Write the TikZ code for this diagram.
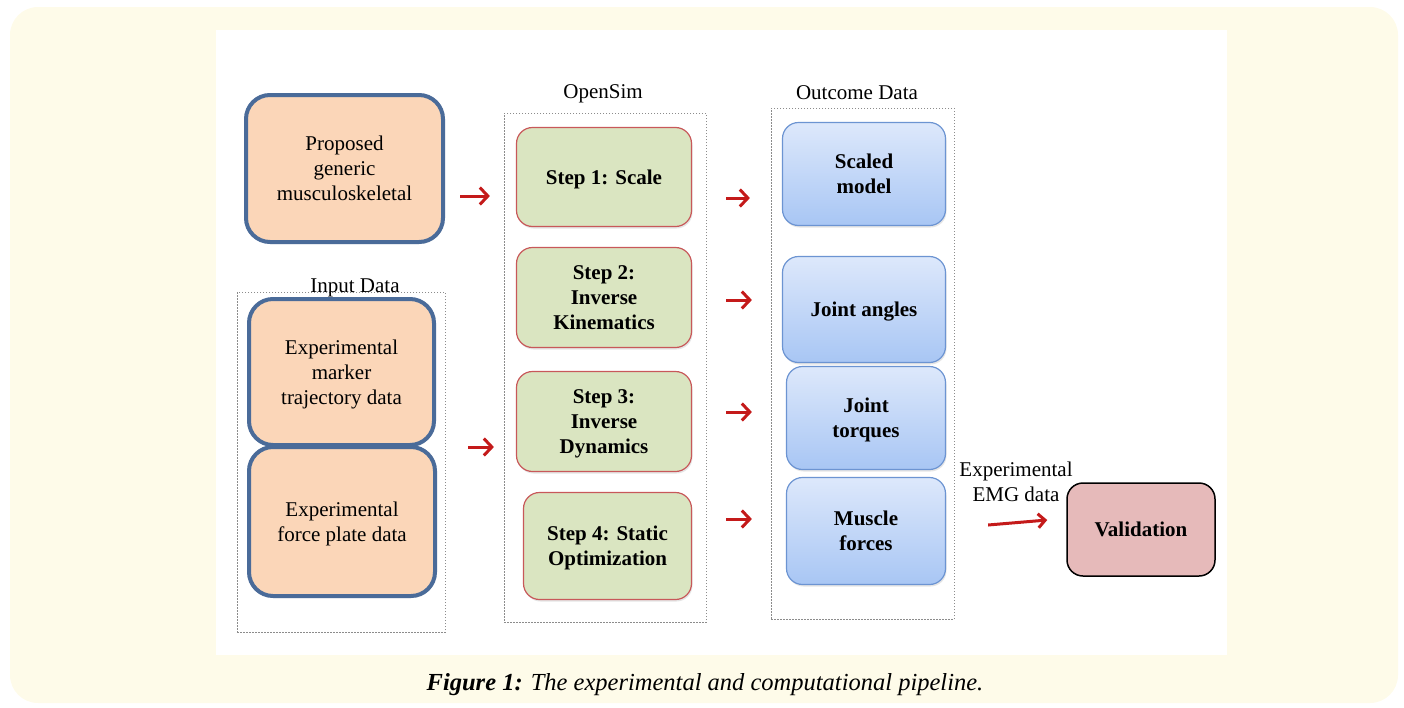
\documentclass[tikz,border=0pt]{standalone}
\usepackage{fontspec}
\setmainfont{Liberation Serif}
\usetikzlibrary{arrows.meta,shadows}
\definecolor{cream}{HTML}{FEFBE9}
\definecolor{peach}{HTML}{FBD6B8}
\definecolor{inputblue}{HTML}{4A6B99}
\definecolor{stepgreen}{HTML}{DAE5C1}
\definecolor{stepred}{HTML}{C8585A}
\definecolor{outtop}{HTML}{DDE8FB}
\definecolor{outbot}{HTML}{A8C6F4}
\definecolor{outblue}{HTML}{6C94D2}
\definecolor{valpink}{HTML}{E6BABA}
\definecolor{flowred}{HTML}{C41A1A}
\begin{document}
\begin{tikzpicture}[x=1pt,y=-1pt]
\tikzstyle{every node}+=[inner sep=0pt, align=center, font=\fontsize{21}{25}\selectfont]
\tikzstyle{inputbox}=[draw=inputblue, line width=4pt, fill=peach, rounded corners=24pt, text depth=-3pt, drop shadow={opacity=0.15, shadow xshift=1pt, shadow yshift=-2pt}]
\tikzstyle{stepbox}=[draw=stepred, line width=1.2pt, fill=stepgreen, rounded corners=16pt, text depth=-3pt, font=\fontsize{21}{25}\selectfont\bfseries, drop shadow={opacity=0.2, shadow xshift=1pt, shadow yshift=-2pt}]
\tikzstyle{outbox}=[draw=outblue, line width=1.2pt, top color=outtop, bottom color=outbot, rounded corners=16pt, text depth=-3pt, font=\fontsize{21}{25}\selectfont\bfseries, drop shadow={opacity=0.2, shadow xshift=1pt, shadow yshift=-2pt}]
\tikzstyle{groupbox}=[draw=gray!90, dash pattern=on 1.5pt off 1.5pt, line width=0.7pt]
\tikzstyle{flow}=[draw=flowred, line width=3pt, -{Straight Barb[length=8pt,width=17pt]}]
\useasboundingbox (0,0) rectangle (1404,707);
\fill [cream, rounded corners=28pt] (10,7) rectangle (1398,703);
\fill [white] (216,30) rectangle (1227,655);
\node [groupbox, minimum width=208pt, minimum height=340pt] (input) at (341,462) {};
\node [groupbox, minimum width=202pt, minimum height=509pt] (opensim) at (605,367.5) {};
\node [groupbox, minimum width=183pt, minimum height=511pt] (outcome) at (862.5,363.5) {};
\node (inputlbl) at (355,288) {Input Data};
\node (opensimlbl) at (603,94) {OpenSim};
\node (outcomelbl) at (857,93) {Outcome Data};
\node [inputbox, minimum width=197pt, minimum height=147pt] (generic) at (344.5,168.5) {Proposed\\generic\\musculoskeletal};
\node [inputbox, minimum width=185pt, minimum height=146pt] (marker) at (341.5,372) {Experimental\\marker\\trajectory data};
\node [inputbox, minimum width=186pt, minimum height=149pt] (force) at (342,521.5) {Experimental\\force plate data};
\node [stepbox, minimum width=175pt, minimum height=99pt] (scale) at (604,177) {Step 1: Scale};
\node [stepbox, minimum width=175pt, minimum height=100pt] (ik) at (604,297.5) {Step 2:\\Inverse\\Kinematics};
\node [stepbox, minimum width=175pt, minimum height=100pt] (id) at (604,421.5) {Step 3:\\Inverse\\Dynamics};
\node [stepbox, minimum width=168pt, minimum height=107pt] (so) at (607.5,546) {Step 4: Static\\Optimization};
\node [outbox, minimum width=163pt, minimum height=103pt] (scaled) at (864,174) {Scaled\\model};
\node [outbox, minimum width=163pt, minimum height=106pt] (angles) at (864,309.5) {Joint angles};
\node [outbox, minimum width=159pt, minimum height=103pt] (torques) at (866,418) {Joint\\torques};
\node [outbox, minimum width=159pt, minimum height=107pt] (muscles) at (866,531) {Muscle\\forces};
\node [draw=black, line width=1.5pt, fill=valpink, rounded corners=16pt, minimum width=148pt, minimum height=93pt, text depth=-3pt, font=\fontsize{21}{25}\selectfont\bfseries] (valid) at (1141,529.5) {Validation};
\node (emg) at (1016,482) {Experimental\\EMG data};
\draw [flow] ([shift={(15,27.5)}]generic.east) -- ([shift={(-26,19)}]scale.west);
\draw [flow] ([shift={(23,-15)}]input.east) -- ([shift={(-22,25.5)}]id.west);
\draw [flow] ([shift={(34,21)}]scale.east) -- ([shift={(-32,24)}]scaled.west);
\draw [flow] ([shift={(34,2.5)}]ik.east) -- ([shift={(-30,-9.5)}]angles.west);
\draw [flow] ([shift={(34,-9.5)}]id.east) -- ([shift={(-34,-6)}]torques.west);
\draw [flow] ([shift={(34,-27)}]so.east) -- ([shift={(-34,-12)}]muscles.west);
\draw [flow, -{Straight Barb[length=7pt,width=14pt]}] ([shift={(42,-6)}]muscles.east) -- ([shift={(-19,-9.5)}]valid.west);
\node (caption) at (705,685) {\fontsize{24.5}{28}\selectfont\itshape\textbf{Figure 1:} The experimental and computational pipeline.};
\end{tikzpicture}
\end{document}
